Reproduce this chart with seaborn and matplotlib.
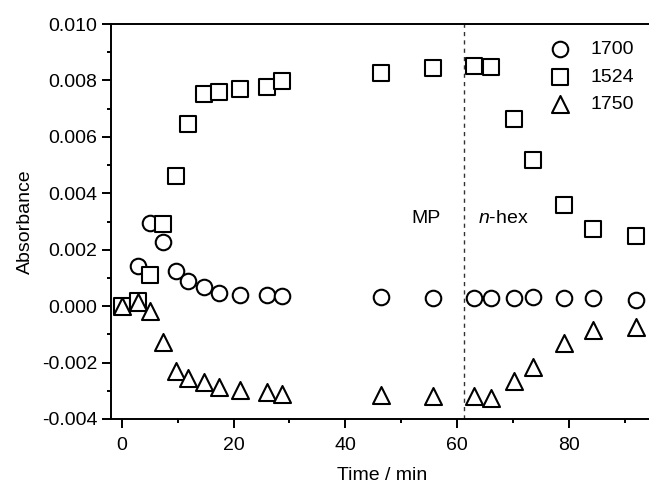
import numpy as np
import pandas as pd
import matplotlib
matplotlib.use("Agg")
import matplotlib.pyplot as plt
import seaborn as sns
from matplotlib.ticker import MultipleLocator, FormatStrFormatter

time_min = [0, 2.9, 5.1, 7.4, 9.6, 11.8, 14.65, 17.3, 21.2, 25.9, 28.65,
            46.3, 55.65, 63.1, 66.0, 70.2, 73.6, 79.1, 84.4, 92.0]

abs_1700 = [0.00000, 0.00144, 0.00294, 0.00228, 0.00124, 0.00088, 0.00067,
            0.00047, 0.00041, 0.00038, 0.00035, 0.00031, 0.00029, 0.00030,
            0.00030, 0.00030, 0.00031, 0.00028, 0.00028, 0.00022]
abs_1524 = [0.00002, 0.00017, 0.00112, 0.00290, 0.00460, 0.00647, 0.00751,
            0.00760, 0.00768, 0.00775, 0.00797, 0.00825, 0.00843, 0.00852,
            0.00848, 0.00665, 0.00519, 0.00357, 0.00274, 0.00250]
abs_1750 = [0.00002, 0.00013, -0.00018, -0.00128, -0.00229, -0.00256, -0.00270,
            -0.00285, -0.00297, -0.00304, -0.00310, -0.00316, -0.00318, -0.00318,
            -0.00324, -0.00265, -0.00215, -0.00132, -0.00085, -0.00075]

series_names = ["1700", "1524", "1750"]
series_markers = ["o", "s", "^"]

sns.set_theme(style="ticks")
plt.rcParams["font.family"] = ["Liberation Sans", "DejaVu Sans"]
plt.rcParams["axes.unicode_minus"] = False
plt.rcParams["mathtext.fontset"] = "custom"
plt.rcParams["mathtext.it"] = "Liberation Sans:italic"
plt.rcParams["mathtext.rm"] = "Liberation Sans"
for key in ["text.color", "axes.labelcolor", "xtick.color", "ytick.color"]:
    plt.rcParams[key] = "black"

df = pd.DataFrame({
    "time": time_min * 3,
    "absorbance": abs_1700 + abs_1524 + abs_1750,
    "band": sum([[n] * len(time_min) for n in series_names], []),
})

fig = plt.figure(figsize=(6.49, 4.84), dpi=100)
ax = fig.add_axes([0.1706, 0.1343, 0.835, 0.8161])

for name, mk in zip(series_names, series_markers):
    sub = df[df["band"] == name]
    size = 150 if mk == "^" else 125
    sns.scatterplot(data=sub, x="time", y="absorbance", marker=mk, s=size,
                    color="white", edgecolor="black", linewidth=1.5,
                    label=name, ax=ax, zorder=3)

ax.axvline(61.2, color="#333333", linestyle=(0, (3, 3)), linewidth=1.0, zorder=2)

ax.text(54.45, 0.0031, "MP", fontsize=14, ha="center", va="center")
ax.text(63.8, 0.0031, r"$\it{n}$-hex", fontsize=14, ha="left", va="center")

ax.set_xlim(-2, 95)
ax.set_ylim(-0.004, 0.010)
ax.xaxis.set_major_locator(MultipleLocator(20))
ax.xaxis.set_minor_locator(MultipleLocator(10))
ax.yaxis.set_major_locator(MultipleLocator(0.002))
ax.yaxis.set_minor_locator(MultipleLocator(0.001))
ax.yaxis.set_major_formatter(FormatStrFormatter("%.3f"))

ax.set_xlabel("Time / min", fontsize=14, labelpad=9)
ax.set_ylabel("Absorbance", fontsize=14, labelpad=6)

ax.tick_params(which="major", direction="out", length=6.5, width=1.4,
               labelsize=14, top=False, right=False)
ax.tick_params(axis="x", which="major", pad=6.5)
ax.tick_params(axis="y", which="major", pad=3)
ax.tick_params(which="minor", direction="out", length=3, width=1.4,
               top=False, right=False)
for sp in ax.spines.values():
    sp.set_linewidth(1.4)
    sp.set_color("black")

ax.legend(loc="upper left", bbox_to_anchor=(0.824, 0.944),
          bbox_transform=fig.transFigure, frameon=False, fontsize=14,
          handletextpad=0.96, labelspacing=0.5, borderpad=0.2,
          handlelength=1.2)

fig.savefig("out.png", dpi=100)
